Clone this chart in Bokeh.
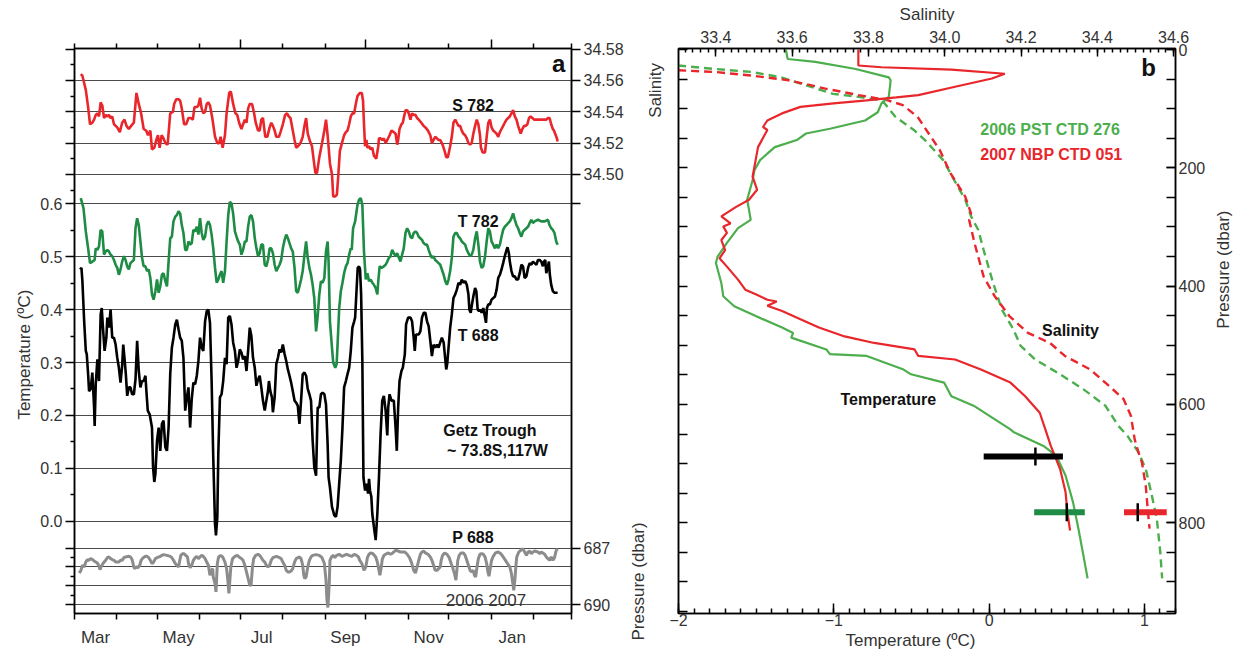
import numpy as np
from bokeh.plotting import figure
from bokeh.models import (Range1d, LinearAxis, FixedTicker, Label, Grid, Title,
                          PrintfTickFormatter)
from bokeh.layouts import row
from bokeh.embed import file_html
from bokeh.resources import INLINE

FONT = "Liberation Sans"
RED = "#e8262b"
GREEN_A = "#1e8c45"
GREEN_B = "#4cae4c"
GRAY = "#8c8c8c"
TXT = "#333333"

# ------------------------------------------------------------------ panel a data
# time axis: days since 1 Mar 2006
month_start_day = [0, 31, 61, 92, 122, 153, 184, 214, 245, 275, 306, 337, 365]
month_labels = ["Mar", "May", "Jul", "Sep", "Nov", "Jan"]
quarter_start_day = [122, 214, 306]

sal_ticks = [34.58, 34.56, 34.54, 34.52, 34.50]
temp_ticks = [0.0, 0.1, 0.2, 0.3, 0.4, 0.5, 0.6]
pres_ticks = [687, 688, 689, 690]
pres_labeled = [687, 690]

# S 782 (salinity, mooring at 782 dbar)
S782 = [(4.6, 34.564), (5.8, 34.563), (8.3, 34.554), (10.0, 34.543), (11.4, 34.532), (13.1, 34.533),
        (14.4, 34.535), (15.6, 34.538), (16.8, 34.539), (18.0, 34.537), (19.2, 34.546), (20.4, 34.544),
        (21.7, 34.536), (22.9, 34.538), (24.1, 34.537), (25.3, 34.538), (26.5, 34.536), (27.7, 34.537),
        (29.0, 34.532), (30.2, 34.531), (31.4, 34.530), (33.3, 34.527), (35.0, 34.533), (36.7, 34.535),
        (38.2, 34.531), (39.9, 34.529), (41.6, 34.531), (43.6, 34.533), (45.5, 34.552), (47.2, 34.545),
        (48.9, 34.539), (50.8, 34.529), (52.6, 34.528), (54.0, 34.525), (55.7, 34.528), (56.9, 34.516),
        (58.6, 34.517), (60.1, 34.522), (61.3, 34.525), (62.5, 34.517), (64.0, 34.525), (65.4, 34.523),
        (66.7, 34.520), (68.4, 34.519), (70.3, 34.539), (72.3, 34.540), (73.2, 34.545), (74.7, 34.548),
        (76.4, 34.548), (77.6, 34.547), (78.8, 34.542), (80.5, 34.532), (82.0, 34.532), (83.7, 34.536),
        (85.4, 34.536), (86.9, 34.535), (88.1, 34.543), (89.8, 34.543), (91.0, 34.544), (92.2, 34.549),
        (93.4, 34.542), (94.6, 34.539), (95.9, 34.540), (97.1, 34.545), (98.3, 34.546), (99.5, 34.544),
        (101.2, 34.536), (103.2, 34.524), (104.9, 34.520), (106.3, 34.520), (107.3, 34.524), (108.8, 34.517),
        (110.5, 34.525), (111.7, 34.539), (113.6, 34.552), (114.8, 34.553), (116.5, 34.545), (118.2, 34.539),
        (119.5, 34.538), (120.9, 34.533), (122.6, 34.529), (123.8, 34.532), (125.1, 34.535), (126.3, 34.533),
        (127.5, 34.542), (128.7, 34.545), (130.4, 34.545), (131.9, 34.539), (133.1, 34.533), (134.8, 34.528),
        (136.0, 34.528), (137.2, 34.535), (138.4, 34.536), (140.1, 34.524), (141.6, 34.524), (143.3, 34.530),
        (144.5, 34.533), (145.7, 34.531), (147.0, 34.528), (148.2, 34.524), (150.1, 34.524), (151.3, 34.527),
        (153.0, 34.532), (154.7, 34.538), (156.0, 34.539), (157.4, 34.537), (158.6, 34.536), (160.3, 34.528),
        (161.6, 34.522), (162.8, 34.517), (164.0, 34.518), (165.2, 34.519), (166.4, 34.521), (167.6, 34.524),
        (168.9, 34.531), (170.1, 34.536), (171.3, 34.526), (173.0, 34.521), (174.4, 34.518), (175.7, 34.509),
        (176.9, 34.501), (178.1, 34.501), (179.8, 34.511), (181.8, 34.520), (183.5, 34.528), (184.7, 34.535),
        (185.9, 34.525), (187.6, 34.507), (189.1, 34.500), (190.0, 34.486), (191.5, 34.486), (192.7, 34.487),
        (193.7, 34.499), (194.9, 34.515), (196.4, 34.520), (198.0, 34.525), (199.3, 34.527), (200.5, 34.528),
        (201.7, 34.532), (202.9, 34.537), (204.1, 34.539), (205.4, 34.539), (206.6, 34.545), (207.8, 34.550),
        (209.5, 34.552), (211.0, 34.552), (211.9, 34.547), (212.6, 34.532), (213.4, 34.518), (214.4, 34.522),
        (215.1, 34.517), (216.3, 34.518), (217.5, 34.516), (218.7, 34.517), (219.9, 34.512), (221.6, 34.510),
        (223.1, 34.518), (223.6, 34.523), (224.8, 34.523), (226.0, 34.522), (227.2, 34.523), (228.5, 34.520),
        (229.7, 34.522), (231.4, 34.525), (232.8, 34.528), (234.5, 34.527), (235.8, 34.526), (237.0, 34.519),
        (237.7, 34.522), (238.7, 34.529), (240.1, 34.532), (241.1, 34.533), (241.8, 34.536), (243.1, 34.541),
        (244.3, 34.541), (245.5, 34.539), (246.7, 34.535), (247.9, 34.539), (249.1, 34.538), (250.4, 34.538),
        (251.6, 34.536), (252.8, 34.535), (254.7, 34.533), (256.4, 34.531), (257.7, 34.530), (259.6, 34.528),
        (261.3, 34.525), (262.5, 34.520), (263.7, 34.522), (264.9, 34.524), (266.2, 34.523), (267.4, 34.522),
        (268.6, 34.522), (270.3, 34.519), (271.8, 34.515), (273.0, 34.511), (274.2, 34.511), (275.9, 34.518),
        (277.1, 34.524), (278.3, 34.533), (279.6, 34.535), (280.8, 34.533), (282.0, 34.531), (283.2, 34.531),
        (284.4, 34.528), (285.6, 34.526), (286.9, 34.525), (288.1, 34.523), (289.3, 34.520), (290.5, 34.519),
        (291.7, 34.520), (292.9, 34.526), (294.2, 34.531), (295.4, 34.535), (296.6, 34.532), (297.8, 34.525),
        (298.5, 34.517), (299.8, 34.514), (301.5, 34.514), (302.7, 34.524), (303.9, 34.533), (305.1, 34.535),
        (306.3, 34.530), (307.5, 34.528), (308.8, 34.527), (310.0, 34.526), (311.2, 34.524), (312.4, 34.527),
        (313.6, 34.529), (314.8, 34.531), (316.0, 34.533), (317.3, 34.535), (318.5, 34.536), (319.7, 34.537),
        (320.9, 34.539), (322.1, 34.541), (323.4, 34.537), (324.6, 34.535), (325.8, 34.531), (327.7, 34.526),
        (328.9, 34.529), (330.2, 34.531), (331.4, 34.531), (332.6, 34.532), (333.8, 34.536), (335.0, 34.537),
        (336.3, 34.536), (337.5, 34.535), (339.2, 34.535), (340.4, 34.535), (341.6, 34.535), (344.0, 34.535),
        (346.5, 34.535), (347.7, 34.536), (348.9, 34.536), (350.1, 34.532), (351.3, 34.529), (352.1, 34.528),
        (353.0, 34.526), (354.3, 34.523), (354.8, 34.521)]

# T 782 (temperature, degC)
T782 = [(4.6, 0.611), (6.6, 0.592), (8.3, 0.548), (10.0, 0.516), (11.4, 0.488), (13.1, 0.491), (14.8, 0.494),
        (15.6, 0.516), (16.8, 0.513), (18.0, 0.520), (19.2, 0.551), (20.4, 0.548), (21.7, 0.504), (22.9, 0.510),
        (24.1, 0.513), (25.3, 0.510), (26.5, 0.504), (27.7, 0.501), (29.0, 0.494), (30.2, 0.485), (31.4, 0.479),
        (32.6, 0.466), (33.8, 0.476), (35.0, 0.491), (36.3, 0.501), (37.5, 0.494), (38.7, 0.482), (39.9, 0.476),
        (41.1, 0.488), (42.3, 0.491), (43.6, 0.494), (44.8, 0.554), (46.0, 0.573), (47.2, 0.560), (48.4, 0.529),
        (49.6, 0.498), (50.8, 0.482), (52.1, 0.482), (53.3, 0.473), (54.5, 0.476), (55.7, 0.460), (56.9, 0.429),
        (58.1, 0.419), (59.4, 0.435), (60.6, 0.457), (61.8, 0.432), (63.0, 0.444), (64.2, 0.466), (65.4, 0.469),
        (66.7, 0.454), (67.9, 0.444), (69.1, 0.491), (70.3, 0.535), (71.5, 0.538), (72.7, 0.567), (74.0, 0.576),
        (75.2, 0.579), (76.4, 0.586), (77.6, 0.582), (78.8, 0.560), (80.0, 0.545), (81.3, 0.513), (82.5, 0.513),
        (83.7, 0.529), (84.9, 0.523), (86.1, 0.526), (87.3, 0.551), (88.6, 0.548), (89.8, 0.557), (91.0, 0.542),
        (92.2, 0.573), (93.4, 0.545), (94.6, 0.532), (95.9, 0.538), (97.1, 0.560), (98.3, 0.567), (99.5, 0.560),
        (100.7, 0.542), (101.9, 0.516), (103.2, 0.479), (104.4, 0.451), (105.6, 0.457), (106.8, 0.466),
        (108.0, 0.473), (109.2, 0.451), (110.5, 0.473), (111.7, 0.529), (112.9, 0.579), (114.1, 0.604),
        (115.3, 0.601), (116.5, 0.582), (117.8, 0.548), (119.0, 0.538), (120.2, 0.529), (121.4, 0.523),
        (122.6, 0.504), (123.8, 0.513), (125.1, 0.529), (126.3, 0.529), (127.5, 0.557), (128.7, 0.576),
        (129.9, 0.579), (131.1, 0.567), (132.4, 0.535), (133.6, 0.516), (134.8, 0.501), (136.0, 0.507),
        (137.2, 0.523), (138.4, 0.523), (139.7, 0.485), (140.9, 0.482), (142.1, 0.494), (143.3, 0.516),
        (144.5, 0.516), (145.7, 0.507), (147.0, 0.485), (148.2, 0.473), (149.4, 0.479), (150.6, 0.485),
        (151.8, 0.494), (153.0, 0.516), (154.3, 0.532), (155.5, 0.542), (156.7, 0.535), (157.9, 0.526),
        (159.1, 0.516), (160.3, 0.510), (161.6, 0.479), (162.8, 0.435), (164.0, 0.432), (165.2, 0.444),
        (166.4, 0.457), (167.6, 0.473), (168.9, 0.504), (170.1, 0.529), (171.3, 0.498), (172.5, 0.479),
        (173.7, 0.466), (174.9, 0.447), (176.1, 0.422), (177.4, 0.359), (178.6, 0.388), (179.8, 0.429),
        (181.0, 0.454), (182.2, 0.451), (183.5, 0.460), (184.7, 0.510), (185.9, 0.529), (186.6, 0.491),
        (187.6, 0.378), (189.1, 0.328), (190.0, 0.300), (191.5, 0.290), (192.5, 0.297), (193.2, 0.334),
        (194.4, 0.403), (195.6, 0.435), (196.8, 0.451), (198.0, 0.469), (199.3, 0.482), (200.5, 0.488),
        (201.7, 0.504), (202.9, 0.516), (203.6, 0.513), (204.6, 0.554), (206.1, 0.567), (207.8, 0.598),
        (209.0, 0.608), (210.2, 0.611), (211.4, 0.598), (212.6, 0.510), (213.9, 0.457), (215.1, 0.469),
        (216.3, 0.454), (217.5, 0.457), (218.7, 0.451), (219.9, 0.447), (221.2, 0.441), (222.4, 0.429),
        (223.1, 0.454), (224.1, 0.482), (225.5, 0.479), (227.2, 0.482), (228.5, 0.485), (229.7, 0.491),
        (230.9, 0.498), (232.1, 0.501), (233.3, 0.513), (234.5, 0.507), (235.8, 0.501), (237.0, 0.507),
        (238.2, 0.498), (239.4, 0.491), (240.6, 0.504), (241.8, 0.516), (243.1, 0.545), (244.3, 0.554),
        (245.5, 0.548), (246.7, 0.538), (247.9, 0.535), (249.1, 0.545), (250.4, 0.548), (251.6, 0.545),
        (252.8, 0.538), (254.0, 0.535), (255.2, 0.532), (256.4, 0.526), (257.7, 0.523), (258.9, 0.523),
        (260.1, 0.513), (261.3, 0.504), (262.5, 0.498), (263.7, 0.501), (264.9, 0.494), (266.2, 0.491),
        (267.4, 0.488), (268.6, 0.485), (269.8, 0.476), (271.1, 0.466), (272.3, 0.454), (273.5, 0.447),
        (274.7, 0.457), (275.9, 0.473), (277.1, 0.498), (278.3, 0.538), (279.6, 0.545), (280.8, 0.545),
        (282.0, 0.538), (283.2, 0.535), (284.4, 0.529), (285.6, 0.526), (286.9, 0.523), (288.1, 0.513),
        (289.3, 0.507), (290.5, 0.501), (291.7, 0.504), (292.9, 0.513), (294.2, 0.535), (295.4, 0.548),
        (296.6, 0.523), (297.8, 0.491), (299.0, 0.479), (300.2, 0.482), (301.5, 0.501), (302.7, 0.529),
        (303.9, 0.554), (305.1, 0.548), (306.3, 0.529), (307.5, 0.523), (308.8, 0.516), (310.0, 0.523),
        (311.2, 0.516), (312.4, 0.523), (313.6, 0.538), (314.8, 0.551), (316.0, 0.557), (317.3, 0.560),
        (318.5, 0.564), (319.7, 0.567), (320.9, 0.573), (322.1, 0.582), (323.4, 0.570), (324.6, 0.560),
        (325.8, 0.554), (327.0, 0.545), (328.2, 0.538), (329.4, 0.548), (330.6, 0.551), (331.9, 0.554),
        (333.1, 0.557), (334.3, 0.564), (335.5, 0.570), (336.7, 0.564), (337.9, 0.567), (340.4, 0.570),
        (342.8, 0.567), (345.3, 0.567), (347.7, 0.570), (348.9, 0.560), (350.1, 0.554), (351.3, 0.551),
        (352.5, 0.545), (353.8, 0.529), (354.8, 0.523)]

# T 688 (temperature, degC)
T688 = [(4.1, 0.476), (5.1, 0.479), (5.8, 0.454), (7.1, 0.378), (8.3, 0.322), (9.0, 0.316), (10.0, 0.278),
        (10.7, 0.246), (11.9, 0.250), (13.1, 0.281), (14.4, 0.215), (14.8, 0.180), (15.6, 0.259), (16.8, 0.306),
        (18.0, 0.265), (19.2, 0.391), (20.0, 0.403), (20.9, 0.366), (22.1, 0.322), (23.4, 0.347), (24.1, 0.385),
        (25.3, 0.366), (26.5, 0.400), (27.7, 0.347), (29.0, 0.347), (30.2, 0.334), (31.4, 0.309), (32.6, 0.290),
        (33.8, 0.262), (35.0, 0.294), (35.8, 0.334), (36.7, 0.309), (37.7, 0.278), (38.7, 0.237), (39.9, 0.253),
        (41.1, 0.253), (42.3, 0.240), (43.6, 0.240), (44.8, 0.268), (46.0, 0.341), (47.2, 0.284), (48.4, 0.253),
        (49.6, 0.265), (50.8, 0.265), (52.1, 0.275), (52.8, 0.246), (53.8, 0.209), (55.2, 0.202), (56.9, 0.177),
        (57.7, 0.102), (58.6, 0.074), (59.4, 0.089), (60.6, 0.152), (61.8, 0.177), (63.0, 0.133), (64.2, 0.184),
        (65.4, 0.190), (66.7, 0.140), (67.9, 0.133), (69.1, 0.177), (70.3, 0.278), (71.5, 0.328), (72.7, 0.347),
        (74.0, 0.372), (75.2, 0.381), (76.4, 0.363), (77.6, 0.347), (78.8, 0.341), (80.0, 0.309), (81.3, 0.209),
        (82.5, 0.234), (83.7, 0.253), (84.9, 0.177), (86.1, 0.231), (87.3, 0.262), (88.6, 0.259), (89.8, 0.275),
        (91.0, 0.303), (92.2, 0.347), (93.4, 0.328), (94.6, 0.322), (95.9, 0.378), (97.1, 0.397), (98.3, 0.400),
        (99.5, 0.375), (100.7, 0.265), (101.9, 0.121), (103.2, -0.005), (103.9, -0.027), (104.9, 0.008),
        (105.6, 0.127), (106.8, 0.234), (108.0, 0.240), (109.2, 0.265), (110.5, 0.309), (111.7, 0.297),
        (112.9, 0.385), (114.1, 0.388), (115.3, 0.372), (116.5, 0.338), (117.8, 0.322), (119.0, 0.290),
        (120.2, 0.303), (121.4, 0.325), (122.6, 0.319), (123.8, 0.306), (125.1, 0.312), (126.3, 0.284),
        (127.5, 0.322), (128.7, 0.366), (129.9, 0.350), (131.1, 0.309), (132.4, 0.290), (133.6, 0.256),
        (134.8, 0.268), (136.0, 0.275), (137.2, 0.253), (138.4, 0.228), (139.7, 0.209), (140.9, 0.228),
        (142.1, 0.246), (142.8, 0.265), (143.8, 0.246), (145.0, 0.234), (145.7, 0.206), (147.0, 0.234),
        (148.2, 0.297), (149.4, 0.309), (150.6, 0.325), (151.8, 0.319), (153.0, 0.334), (154.3, 0.316),
        (155.5, 0.303), (156.7, 0.287), (157.9, 0.275), (159.1, 0.262), (160.3, 0.246), (161.6, 0.228),
        (162.8, 0.224), (164.0, 0.218), (165.2, 0.184), (166.4, 0.228), (167.6, 0.278), (168.9, 0.281),
        (170.1, 0.275), (171.3, 0.250), (172.5, 0.240), (173.7, 0.228), (174.9, 0.152), (176.1, 0.102),
        (177.4, 0.086), (178.6, 0.215), (179.8, 0.215), (181.0, 0.240), (182.2, 0.243), (183.5, 0.240),
        (184.7, 0.221), (185.9, 0.146), (186.6, 0.083), (187.6, 0.064), (189.1, 0.027), (190.8, 0.011),
        (192.0, 0.008), (193.2, 0.027), (194.4, 0.071), (195.6, 0.115), (196.8, 0.177), (198.0, 0.253),
        (199.3, 0.265), (200.5, 0.278), (201.7, 0.290), (202.9, 0.322), (204.1, 0.366), (205.4, 0.378),
        (206.1, 0.385), (207.1, 0.435), (208.0, 0.479), (209.0, 0.482), (209.7, 0.476), (210.5, 0.429),
        (211.4, 0.303), (212.2, 0.083), (213.4, 0.058), (214.4, 0.071), (215.6, 0.052), (216.3, 0.080),
        (217.0, 0.058), (218.0, 0.046), (218.7, 0.014), (219.9, -0.011), (221.2, -0.036), (222.4, 0.014),
        (223.6, 0.083), (224.8, 0.165), (226.0, 0.228), (227.2, 0.237), (228.5, 0.209), (229.7, 0.162),
        (230.4, 0.215), (231.4, 0.240), (232.8, 0.228), (234.5, 0.228), (235.8, 0.177), (236.7, 0.133),
        (237.7, 0.215), (238.7, 0.265), (240.1, 0.284), (241.1, 0.290), (242.6, 0.316), (243.5, 0.372),
        (245.0, 0.385), (246.7, 0.385), (247.9, 0.378), (249.1, 0.347), (249.9, 0.322), (250.8, 0.353),
        (252.8, 0.353), (254.0, 0.359), (255.2, 0.385), (256.4, 0.394), (257.7, 0.394), (258.9, 0.378),
        (260.1, 0.369), (261.3, 0.341), (262.5, 0.312), (263.7, 0.334), (264.9, 0.328), (266.2, 0.334),
        (267.4, 0.328), (268.6, 0.338), (269.8, 0.347), (271.1, 0.338), (272.3, 0.306), (273.0, 0.287),
        (273.7, 0.297), (274.7, 0.328), (275.9, 0.366), (277.1, 0.391), (278.3, 0.422), (279.6, 0.429),
        (280.8, 0.438), (282.0, 0.451), (283.2, 0.447), (284.4, 0.457), (285.6, 0.451), (286.9, 0.454),
        (288.1, 0.447), (289.3, 0.429), (290.0, 0.400), (291.0, 0.394), (291.7, 0.407), (292.9, 0.425),
        (294.2, 0.441), (295.1, 0.435), (296.1, 0.400), (297.1, 0.397), (298.1, 0.400), (299.0, 0.394),
        (300.2, 0.403), (301.5, 0.385), (302.2, 0.375), (302.9, 0.403), (303.9, 0.410), (305.1, 0.410),
        (306.3, 0.419), (308.8, 0.425), (310.0, 0.438), (311.2, 0.460), (312.4, 0.466), (313.6, 0.476),
        (314.8, 0.488), (316.0, 0.501), (317.3, 0.513), (318.0, 0.518), (319.0, 0.507), (319.7, 0.491),
        (320.9, 0.473), (322.1, 0.463), (323.4, 0.463), (324.6, 0.457), (325.8, 0.457), (327.0, 0.469),
        (328.2, 0.485), (329.4, 0.482), (330.6, 0.460), (331.9, 0.463), (333.1, 0.479), (334.3, 0.488),
        (335.5, 0.485), (336.7, 0.491), (337.9, 0.488), (339.2, 0.485), (340.4, 0.494), (341.6, 0.494),
        (342.8, 0.491), (344.0, 0.482), (344.8, 0.491), (345.7, 0.494), (346.5, 0.469), (347.7, 0.482),
        (348.4, 0.491), (349.1, 0.466), (350.1, 0.447), (351.3, 0.435), (352.5, 0.432), (354.8, 0.432)]

# P 688 (instrument pressure, dbar)
P688 = [(3.4, 688.32), (4.6, 688.21), (5.8, 687.91), (7.1, 688.00), (8.3, 687.74), (9.5, 687.61),
        (10.7, 687.65), (11.9, 687.56), (13.1, 687.61), (14.4, 687.68), (15.6, 687.74), (16.8, 687.79),
        (18.0, 687.96), (18.7, 688.14), (19.7, 687.96), (21.2, 687.79), (22.9, 687.65), (24.1, 687.51),
        (25.3, 687.47), (26.5, 687.56), (27.7, 687.61), (29.0, 687.65), (30.2, 687.74), (32.6, 687.74),
        (33.8, 687.65), (35.0, 687.65), (36.3, 687.51), (37.5, 687.47), (39.9, 687.44), (41.1, 687.47),
        (42.3, 687.61), (43.6, 688.00), (44.3, 688.09), (45.3, 688.00), (46.5, 688.04), (47.9, 687.91),
        (48.9, 687.65), (50.4, 687.51), (52.1, 687.44), (53.3, 687.44), (54.5, 687.51), (55.7, 687.65),
        (56.9, 687.82), (58.1, 687.74), (59.4, 687.56), (60.6, 687.51), (63.0, 687.44), (64.2, 687.39),
        (65.4, 687.35), (67.9, 687.39), (70.3, 687.44), (71.5, 687.51), (72.7, 687.65), (74.0, 687.82),
        (75.2, 687.91), (76.4, 688.00), (77.1, 687.74), (78.1, 687.39), (79.3, 687.30), (80.5, 687.30),
        (81.7, 687.39), (83.0, 687.47), (83.7, 687.82), (84.9, 688.04), (86.1, 687.91), (87.3, 687.65),
        (88.6, 687.51), (89.8, 687.44), (91.0, 687.56), (92.2, 687.47), (93.4, 687.39), (94.6, 687.44),
        (95.9, 687.56), (97.1, 687.74), (98.3, 687.91), (99.5, 688.44), (100.7, 688.18), (101.5, 688.09),
        (101.9, 688.53), (103.2, 688.88), (103.9, 689.32), (104.9, 687.82), (105.8, 687.47), (107.3, 687.39),
        (108.8, 687.47), (110.5, 687.74), (111.7, 688.09), (112.6, 688.70), (113.4, 689.40), (114.1, 688.70),
        (114.8, 688.00), (116.1, 687.56), (117.8, 687.44), (119.5, 687.39), (120.9, 687.47), (122.6, 687.56),
        (123.8, 687.65), (125.1, 687.91), (126.3, 688.26), (127.5, 688.61), (128.7, 688.96), (129.7, 688.96),
        (130.7, 688.00), (131.6, 687.56), (133.1, 687.39), (134.8, 687.33), (136.0, 687.39), (137.2, 687.51),
        (138.4, 687.65), (139.7, 687.74), (140.9, 687.91), (142.1, 688.00), (143.3, 687.91), (144.5, 687.65),
        (145.7, 687.51), (148.2, 687.44), (150.6, 687.51), (151.8, 687.56), (153.0, 687.74), (154.3, 687.91),
        (155.5, 688.18), (156.7, 688.26), (157.9, 688.26), (159.1, 688.21), (160.3, 688.09), (161.6, 687.74),
        (162.8, 687.56), (165.2, 687.47), (166.4, 687.56), (167.6, 687.91), (168.4, 688.44), (169.1, 688.61),
        (170.1, 688.53), (171.3, 688.00), (172.5, 687.65), (173.7, 687.47), (174.9, 687.39), (177.4, 687.35),
        (179.8, 687.39), (181.8, 687.51), (183.5, 687.82), (184.7, 688.70), (185.4, 689.75), (186.1, 690.14),
        (187.1, 688.88), (187.6, 687.65), (188.8, 687.47), (190.0, 687.39), (191.2, 687.51), (192.5, 687.39),
        (194.4, 687.33), (196.4, 687.44), (198.0, 687.39), (199.8, 687.33), (201.7, 687.39), (203.6, 687.44),
        (205.4, 687.33), (207.1, 687.39), (208.5, 687.47), (209.5, 687.65), (211.0, 687.82), (212.6, 688.18),
        (213.9, 688.00), (215.1, 687.51), (216.3, 687.33), (217.5, 687.26), (219.2, 687.30), (221.2, 687.47),
        (222.4, 687.74), (223.6, 688.18), (224.3, 688.44), (225.3, 688.00), (226.0, 687.61), (227.2, 687.39),
        (228.5, 687.33), (230.4, 687.26), (232.1, 687.33), (233.8, 687.26), (235.8, 687.12), (237.7, 687.16),
        (239.4, 687.21), (242.6, 687.21), (244.3, 687.33), (246.0, 687.51), (247.4, 687.74), (249.1, 688.18),
        (250.4, 688.32), (251.6, 688.00), (252.8, 687.65), (254.0, 687.33), (255.2, 687.21), (256.4, 687.16),
        (257.7, 687.26), (259.6, 687.33), (261.3, 687.47), (262.5, 687.65), (263.7, 687.91), (264.9, 688.18),
        (266.2, 688.18), (267.4, 688.09), (268.6, 688.00), (269.3, 687.65), (270.3, 687.39), (271.8, 687.26),
        (273.5, 687.33), (275.2, 687.51), (276.6, 687.82), (277.6, 688.00), (278.3, 688.18), (279.1, 688.35),
        (280.1, 688.70), (280.8, 688.18), (281.5, 687.65), (282.5, 687.39), (283.9, 687.26), (285.6, 687.26),
        (286.9, 687.39), (288.1, 687.65), (289.3, 687.91), (290.5, 688.18), (291.7, 688.26), (292.9, 688.18),
        (293.7, 688.44), (294.6, 688.53), (295.6, 688.00), (296.6, 687.56), (297.8, 687.33), (299.0, 687.30),
        (300.2, 687.33), (301.5, 687.47), (302.7, 687.82), (303.4, 688.18), (304.4, 688.49), (305.1, 688.18),
        (306.3, 687.65), (307.5, 687.44), (309.2, 687.26), (311.2, 687.21), (313.1, 687.30), (314.8, 687.47),
        (316.5, 687.65), (318.0, 687.82), (319.7, 688.00), (320.9, 688.35), (321.9, 688.88), (322.6, 689.23),
        (323.4, 688.70), (324.1, 688.00), (324.8, 687.47), (326.3, 687.21), (327.7, 687.12), (329.2, 687.04),
        (330.6, 687.21), (331.9, 687.39), (333.1, 687.21), (334.3, 687.16), (335.5, 687.30), (336.7, 687.21),
        (337.9, 687.16), (340.4, 687.21), (341.6, 687.30), (342.8, 687.21), (345.3, 687.33), (346.5, 687.47),
        (347.7, 687.56), (348.9, 687.65), (350.1, 687.47), (351.3, 687.65), (352.5, 687.51), (353.8, 687.12),
        (354.8, 687.04)]

# ------------------------------------------------------------------ panel b data
# CTD profiles: (temperature degC, pressure dbar) and (salinity, pressure dbar)
TEMP_2007 = [(-0.842, 0), (-0.842, 27), (-0.693, 30), (-0.243, 34), (0.101, 41), (0.018, 49), (-0.219, 63),
             (-0.456, 77), (-0.598, 81), (-0.788, 86), (-1.002, 91), (-1.215, 97), (-1.334, 108), (-1.428, 120),
             (-1.456, 131), (-1.428, 136), (-1.488, 165), (-1.511, 198), (-1.523, 215), (-1.494, 237),
             (-1.546, 254), (-1.629, 266), (-1.724, 282), (-1.665, 294), (-1.712, 299), (-1.688, 310),
             (-1.724, 322), (-1.700, 339), (-1.736, 353), (-1.688, 367), (-1.617, 389), (-1.570, 406),
             (-1.499, 414), (-1.428, 423), (-1.368, 426), (-1.428, 433), (-1.333, 442), (-1.215, 456),
             (-1.096, 470), (-0.930, 485), (-0.740, 496), (-0.480, 507), (-0.456, 518), (-0.219, 524),
             (-0.053, 541), (0.137, 563), (0.232, 586), (0.326, 614), (0.362, 642), (0.397, 670), (0.457, 709),
             (0.492, 748), (0.504, 782), (0.521, 813)]
TEMP_2006 = [(-1.309, 0), (-1.297, 16), (-1.119, 21), (-0.859, 33), (-0.646, 47), (-0.634, 52), (-0.646, 80),
             (-0.693, 91), (-0.717, 106), (-0.799, 120), (-1.025, 134), (-1.179, 142), (-1.238, 153),
             (-1.380, 165), (-1.428, 176), (-1.475, 187), (-1.511, 204), (-1.523, 221), (-1.558, 254),
             (-1.546, 271), (-1.535, 288), (-1.617, 302), (-1.688, 327), (-1.748, 350), (-1.759, 361),
             (-1.724, 395), (-1.712, 417), (-1.641, 434), (-1.499, 451), (-1.333, 470), (-1.262, 479),
             (-1.274, 487), (-1.048, 507), (-1.025, 515), (-0.788, 518), (-0.551, 541), (-0.503, 549),
             (-0.290, 563), (-0.243, 586), (-0.100, 602), (0.137, 642), (0.160, 647), (0.350, 670), (0.433, 687),
             (0.492, 720), (0.540, 765), (0.575, 810), (0.611, 861), (0.634, 894)]
SAL_2006 = [(33.301, 27), (33.398, 33), (33.494, 38), (33.571, 47), (33.639, 61), (33.707, 75), (33.774, 80),
            (33.832, 86), (33.842, 91), (33.871, 114), (33.919, 136), (33.948, 153), (33.996, 187), (34.025, 221),
            (34.054, 254), (34.069, 282), (34.088, 305), (34.102, 339), (34.127, 395), (34.150, 440),
            (34.180, 473), (34.199, 501), (34.237, 524), (34.295, 546), (34.363, 574), (34.421, 602),
            (34.455, 636), (34.479, 653), (34.508, 681), (34.527, 709), (34.541, 748), (34.556, 793),
            (34.565, 849), (34.570, 894)]
SAL_2007 = [(33.301, 35), (33.398, 38), (33.494, 44), (33.591, 52), (33.687, 66), (33.774, 77), (33.851, 86),
            (33.890, 94), (33.929, 114), (33.958, 142), (33.987, 170), (34.015, 209), (34.054, 249),
            (34.069, 277), (34.064, 288), (34.078, 327), (34.102, 384), (34.131, 417), (34.170, 451),
            (34.218, 479), (34.276, 496), (34.315, 518), (34.382, 541), (34.440, 574), (34.469, 591),
            (34.488, 619), (34.498, 659), (34.508, 681), (34.517, 698), (34.527, 737), (34.532, 776),
            (34.537, 810)]

# mooring ranges (depth, min, mean, max)
bar_T688 = (688, -0.035, 0.298, 0.475)
bar_T782 = (782, 0.29, 0.50, 0.616)
bar_S782 = (782, 34.470, 34.506, 34.582)

# ------------------------------------------------------------------ helpers
# every figure in the row shares one frame: 48 px below the top, 34 px above the bottom
H = 649
TOP, BOT = 48, 34
T_RANGE = (-0.1747, 0.894)
S_RANGE = (34.2196, 34.5804)
P_RANGE = (690.458, 660.62)
PB_T_RANGE = (-2.0, 1.20)
PB_S_RANGE = (33.302, 34.605)
PB_P_RANGE = (953.3, -1.7)


def lin(v, src, dst):
    return round(dst[0] + (v - src[0]) * (dst[1] - dst[0]) / (src[1] - src[0]), 6)


def s2t(s):
    return lin(s, S_RANGE, T_RANGE)


def p2t(p):
    return lin(p, P_RANGE, T_RANGE)


def unzip(pairs):
    a, b = zip(*pairs)
    return list(a), list(b)


def lab(fig, x, y, text, size="16px", bold=True, align="center", angle=0.0, color="#111111",
        xr="default", yr="default"):
    fig.add_layout(Label(x=x, y=y, text=text, text_font=FONT, text_font_size=size,
                         text_font_style="bold" if bold else "normal", text_color=color,
                         text_align=align, text_baseline="middle", angle=angle,
                         x_range_name=xr, y_range_name=yr))


def style_axis(ax, size="16px"):
    ax.axis_line_color = "black"
    ax.axis_line_width = 1.5
    ax.major_tick_line_color = "black"
    ax.major_tick_line_width = 1.5
    ax.minor_tick_line_color = "black"
    ax.minor_tick_line_width = 1.5
    ax.major_label_text_font = FONT
    ax.major_label_text_font_size = size
    ax.major_label_text_color = TXT
    ax.axis_label_text_font = FONT
    ax.axis_label_text_font_size = "17px"
    ax.axis_label_text_font_style = "normal"
    ax.axis_label_text_color = TXT


def gutter(width, x0, y_range, left=0):
    """blank strip beside a panel that carries its rotated axis titles"""
    g = figure(width=width, height=H, x_range=Range1d(x0 + left, x0 + width), y_range=y_range,
               x_axis_location=None, y_axis_location=None, toolbar_location=None,
               output_backend="svg", min_border_left=left, min_border_right=0,
               min_border_top=TOP, min_border_bottom=BOT)
    g.outline_line_color = None
    g.xgrid.visible = False
    g.ygrid.visible = False
    g.background_fill_color = "white"
    g.border_fill_color = "white"
    return g


# ------------------------------------------------------------------ panel a
pa = figure(width=589, height=H, x_range=Range1d(0, 365), y_range=Range1d(*T_RANGE),
            x_axis_location=None, y_axis_location=None, toolbar_location=None,
            output_backend="svg", min_border_left=35, min_border_right=54,
            min_border_top=TOP, min_border_bottom=BOT)
pa.extra_y_ranges = {"sal": Range1d(*S_RANGE), "pres": Range1d(*P_RANGE)}
pa.outline_line_color = "black"
pa.outline_line_width = 1.5
pa.outline_line_alpha = 1.0
pa.background_fill_color = "white"
pa.border_fill_color = "white"
pa.xgrid.visible = False
pa.ygrid.visible = False

grid_pos = [s2t(s) for s in sal_ticks[1:]] + temp_ticks + [p2t(p) for p in pres_ticks]
pa.add_layout(Grid(dimension=1, ticker=FixedTicker(ticks=grid_pos),
                   grid_line_color="#4a4a4a", grid_line_width=1.1))

d, v = unzip(P688)
pa.line(d, v, y_range_name="pres", line_color=GRAY, line_width=3)
d, v = unzip(T688)
pa.line(d, v, line_color="black", line_width=2.6)
d, v = unzip(T782)
pa.line(d, v, line_color=GREEN_A, line_width=2.6)
d, v = unzip(S782)
pa.line(d, v, y_range_name="sal", line_color=RED, line_width=2.6)

# left axis: temperature labels, long ticks on every grid row, short ticks halfway
left_major = [s2t(s) for s in sal_ticks] + temp_ticks + [p2t(p) for p in pres_ticks]
left_minor = ([s2t(s) for s in (34.57, 34.55, 34.53, 34.51, 34.49)]
              + [round(t + 0.05, 2) for t in temp_ticks[:-1]]
              + [p2t(p) for p in (687.5, 688.5, 689.5)])
left_over = {t: "" for t in left_major}
for t in temp_ticks:
    left_over[t] = f"{t:.1f}"
ax_l = LinearAxis(ticker=FixedTicker(ticks=left_major, minor_ticks=left_minor),
                  major_label_overrides=left_over, major_tick_out=9, major_tick_in=0,
                  minor_tick_out=4, minor_tick_in=0, major_label_standoff=3)
style_axis(ax_l)
pa.add_layout(ax_l, "left")

# right axis: salinity (top) and pressure (bottom) labels
right_major = [s2t(s) for s in sal_ticks] + [0.6] + [p2t(p) for p in pres_labeled]
right_over = {s2t(s): f"{s:.2f}" for s in sal_ticks}
right_over[0.6] = ""
for p in pres_labeled:
    right_over[p2t(p)] = f"{p}"
ax_r = LinearAxis(ticker=FixedTicker(ticks=right_major, minor_ticks=[]),
                  major_label_overrides=right_over, major_tick_out=9, major_tick_in=0,
                  minor_tick_out=0, minor_tick_in=0, major_label_standoff=3)
style_axis(ax_r)
pa.add_layout(ax_r, "right")

# bottom axis: month names centred in their month, ticks at month boundaries
mids = [(month_start_day[i] + month_start_day[i + 1]) / 2 for i in range(0, 12, 2)]
ax_b = LinearAxis(ticker=FixedTicker(ticks=mids, minor_ticks=month_start_day),
                  major_label_overrides={m: n for m, n in zip(mids, month_labels)},
                  major_tick_out=0, major_tick_in=0, minor_tick_out=6, minor_tick_in=0,
                  major_label_standoff=8)
style_axis(ax_b, "17px")
pa.add_layout(ax_b, "below")

ax_t = LinearAxis(ticker=FixedTicker(ticks=quarter_start_day,
                                     minor_ticks=[m for m in month_start_day if m not in quarter_start_day]),
                  major_tick_out=9, major_tick_in=0, minor_tick_out=5, minor_tick_in=0,
                  major_label_overrides={q: "" for q in quarter_start_day})
style_axis(ax_t)
pa.add_layout(ax_t, "above")

lab(pa, 355.5, 0.866, "a", size="24px")
lab(pa, 292.7, 34.544, "S 782", yr="sal")
lab(pa, 296.4, 0.566, "T 782")
lab(pa, 296.4, 0.351, "T 688")
lab(pa, 270.8, 0.171, "Getz Trough", align="left")
lab(pa, 273.5, 0.133, "~ 73.8S,117W", align="left")
lab(pa, 292.7, -0.0315, "P 688")
lab(pa, 302.2, 689.76, "2006 2007", size="17px", bold=False, color=TXT, yr="pres")

# axis titles of panel a, in strips left and right of it
gL = gutter(37, 0, Range1d(*T_RANGE))
lab(gL, 24, 0.315, "Temperature (ºC)", size="17px", bold=False, color=TXT, angle=np.pi / 2)

gM = gutter(42, 626, Range1d(*S_RANGE), left=22)
lab(gM, 655, 34.5537, "Salinity", size="17px", bold=False, color=TXT, angle=np.pi / 2)
gM.add_layout(Title(text="Pressure (dbar)", align="left", vertical_align="middle", offset=-27,
                    standoff=0, text_font=FONT, text_font_size="17px", text_font_style="normal",
                    text_color=TXT), "left")

# ------------------------------------------------------------------ panel b
pb = figure(width=540, height=H, x_range=Range1d(*PB_T_RANGE), y_range=Range1d(*PB_P_RANGE),
            x_axis_location=None, y_axis_location=None, toolbar_location=None,
            output_backend="svg", min_border_left=10, min_border_right=31,
            min_border_top=TOP, min_border_bottom=BOT)
pb.extra_x_ranges = {"sal": Range1d(*PB_S_RANGE)}
pb.outline_line_color = "black"
pb.outline_line_width = 1.5
pb.outline_line_alpha = 1.0
pb.background_fill_color = "white"
pb.border_fill_color = "white"
pb.xgrid.visible = False
pb.ygrid.visible = False

s, p = unzip(SAL_2006)
pb.line(s, p, x_range_name="sal", line_color=GREEN_B, line_width=2.4, line_dash="8 5")
s, p = unzip(SAL_2007)
pb.line(s, p, x_range_name="sal", line_color=RED, line_width=2.4, line_dash="8 5")
t, p = unzip(TEMP_2006)
pb.line(t, p, line_color=GREEN_B, line_width=2.2)
t, p = unzip(TEMP_2007)
pb.line(t, p, line_color=RED, line_width=2.2)

pb.segment(x0=[bar_T688[1], bar_T782[1]], x1=[bar_T688[3], bar_T782[3]],
           y0=[bar_T688[0], bar_T782[0]], y1=[bar_T688[0], bar_T782[0]],
           line_color=["black", GREEN_A], line_width=6)
pb.segment(x0=[bar_S782[1]], x1=[bar_S782[3]], y0=[bar_S782[0]], y1=[bar_S782[0]],
           x_range_name="sal", line_color=RED, line_width=6)
pb.scatter(x=[bar_T688[2], bar_T782[2]], y=[bar_T688[0], bar_T782[0]], marker="dash",
           angle=np.pi / 2, size=18, line_color="black", line_width=2.5)
pb.scatter(x=[bar_S782[2]], y=[bar_S782[0]], marker="dash", x_range_name="sal",
           angle=np.pi / 2, size=18, line_color="black", line_width=2.5)

ax = LinearAxis(ticker=FixedTicker(ticks=[-2, -1, 0, 1],
                                   minor_ticks=[round(-2 + 0.1 * i, 1) for i in range(33)]),
                major_tick_in=10, major_tick_out=0, minor_tick_in=5, minor_tick_out=0,
                major_label_standoff=0)
style_axis(ax)
pb.add_layout(ax, "below")
pb.add_layout(Title(text="Temperature (ºC)", align="left", offset=167, standoff=0,
                    text_font=FONT, text_font_size="17px", text_font_style="normal",
                    text_color=TXT), "below")

ax = LinearAxis(x_range_name="sal",
                ticker=FixedTicker(ticks=[round(33.4 + 0.2 * i, 1) for i in range(7)],
                                   minor_ticks=[round(33.32 + 0.02 * i, 2) for i in range(65)]),
                formatter=PrintfTickFormatter(format="%.1f"),
                major_tick_in=8, major_tick_out=0, minor_tick_in=4, minor_tick_out=0,
                major_label_standoff=6, axis_label="Salinity", axis_label_standoff=4)
style_axis(ax)
pb.add_layout(ax, "above")

pticks = list(range(0, 951, 50))
ax = LinearAxis(ticker=FixedTicker(ticks=[], minor_ticks=pticks),
                major_tick_in=9, major_tick_out=0, minor_tick_in=9, minor_tick_out=0)
style_axis(ax)
pb.add_layout(ax, "left")

ax = LinearAxis(ticker=FixedTicker(ticks=[v for v in pticks if v % 200 == 0], minor_ticks=pticks),
                major_tick_in=9, major_tick_out=0, minor_tick_in=9, minor_tick_out=0,
                major_label_standoff=3)
style_axis(ax)
pb.add_layout(ax, "right")

lab(pb, 1.027, 30, "b", size="24px")
lab(pb, -0.057, 136, "2006 PST CTD 276", align="left", color=GREEN_B)
lab(pb, -0.057, 177, "2007 NBP CTD 051", align="left", color=RED)
lab(pb, 0.341, 475, "Salinity", align="left")
lab(pb, -0.957, 592, "Temperature", align="left")

gR = gutter(31, 1208, Range1d(*PB_P_RANGE))
lab(gR, 1223, 372, "Pressure (dbar)", size="17px", bold=False, color=TXT, angle=np.pi / 2)

layout = row(gL, pa, gM, pb, gR)
open("out.html", "w").write(file_html(layout, INLINE))
